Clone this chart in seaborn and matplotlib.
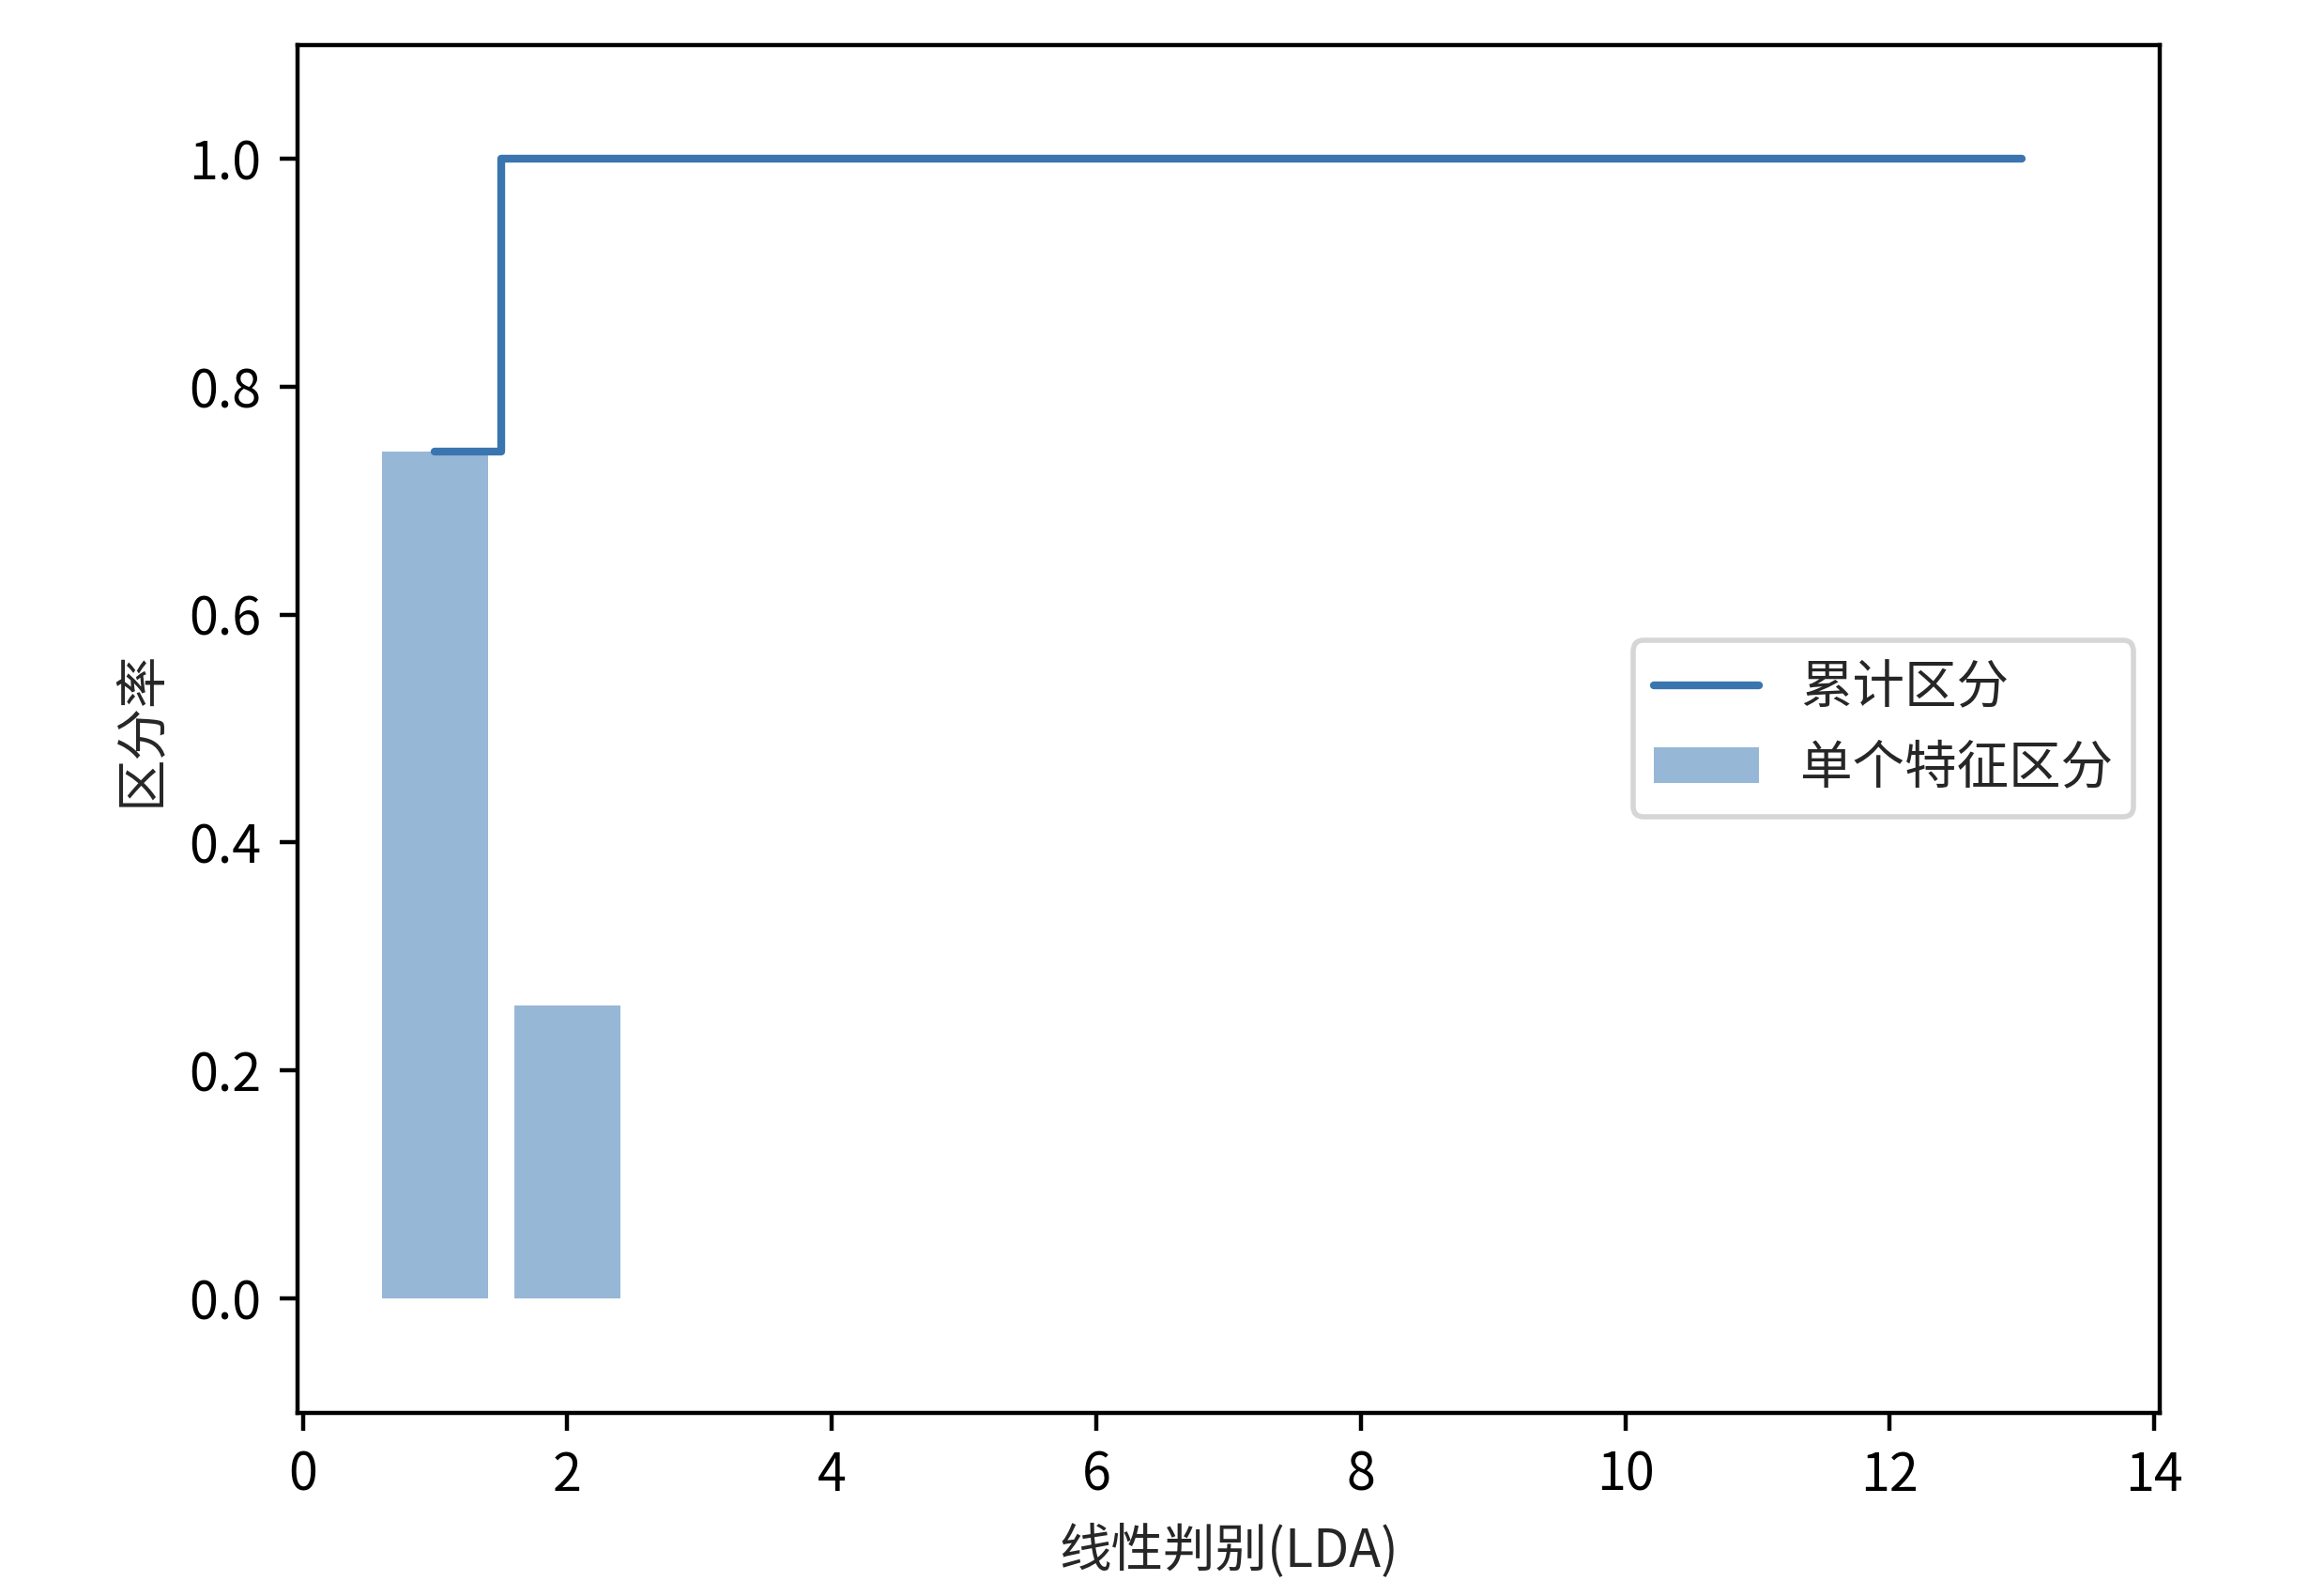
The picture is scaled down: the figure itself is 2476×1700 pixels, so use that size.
import matplotlib
matplotlib.use("Agg")
import matplotlib.pyplot as plt
import seaborn as sns
import numpy as np
import pandas as pd

# Data
components = list(range(1, 14))
individual = [0.743, 0.257, 0.0, 0.0, 0.0, 0.0, 0.0, 0.0, 0.0, 0.0, 0.0, 0.0, 0.0]
cumulative = list(np.cumsum(individual))
x_label = "线性判别(LDA)"
y_label = "区分率"
line_label = "累计区分"
bar_label = "单个特征区分"

sns.set_style("ticks")
plt.rcParams['font.family'] = ['Noto Sans CJK SC', 'DejaVu Sans']
plt.rcParams['axes.unicode_minus'] = False
plt.rcParams['font.size'] = 10

fig = plt.figure(figsize=(6.19, 4.25), dpi=400)
ax = fig.add_axes([0.128, 0.115, 0.8013, 0.857])

df = pd.DataFrame({"comp": components, "ind": individual, "cum": cumulative})

sns.barplot(data=df, x="comp", y="ind", native_scale=True, width=0.8,
            color="#3070ae", alpha=0.5, saturation=1, linewidth=0,
            edgecolor="none", label=bar_label, ax=ax)
sns.lineplot(data=df, x="comp", y="cum", drawstyle="steps-mid",
             color="#3a75b0", linewidth=1.5, label=line_label, ax=ax)

ax.set_ylim(-0.1, 1.1)
ax.set_xlim(-0.04, 14.04)
ax.set_xticks(range(0, 15, 2))
ax.set_yticks([0.0, 0.2, 0.4, 0.6, 0.8, 1.0])
ax.set_yticklabels(["0.0", "0.2", "0.4", "0.6", "0.8", "1.0"])
ax.set_xlabel(x_label)
ax.set_ylabel(y_label)
for s in ax.spines.values():
    s.set_visible(True)
    s.set_color("black")
    s.set_linewidth(0.8)
ax.tick_params(direction="out", length=3.5, width=0.8, colors="black")

handles, labels = ax.get_legend_handles_labels()
order = [labels.index(line_label), labels.index(bar_label)]
ax.legend([handles[i] for i in order], [labels[i] for i in order],
          loc="center right", frameon=True, fontsize=10)

fig.savefig("out.png", dpi=400)
